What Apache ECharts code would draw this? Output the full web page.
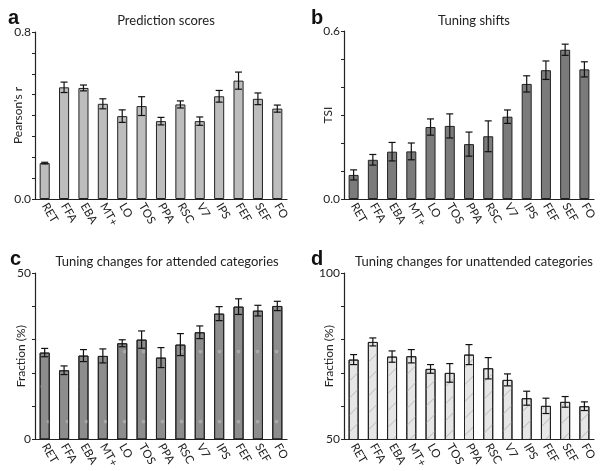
<!DOCTYPE html>
<html><head><meta charset="utf-8">
<script src="https://cdn.jsdelivr.net/npm/echarts@6/dist/echarts.min.js"></script>
<style>html,body{margin:0;padding:0;background:#fff}#c{width:602px;height:471px}</style>
</head><body><div id="c"></div>
<script>
const categories = ['RET','FFA','EBA','MT+','LO','TOS','PPA','RSC','V7','IPS','FEF','SEF','FO'];

const predValues = [0.172,0.535,0.532,0.456,0.397,0.445,0.373,0.453,0.373,0.492,0.567,0.480,0.433];
const predErrors = [0.004,0.025,0.014,0.024,0.030,0.045,0.018,0.017,0.020,0.028,0.041,0.028,0.017];

const tsiValues = [0.086,0.140,0.169,0.170,0.257,0.261,0.196,0.224,0.294,0.411,0.460,0.533,0.463];
const tsiErrors = [0.018,0.019,0.033,0.030,0.029,0.043,0.043,0.055,0.024,0.029,0.033,0.020,0.027];

const attValues = [26.1,20.8,25.2,25.1,28.9,30.0,24.6,28.5,32.2,37.8,39.9,38.7,40.1];
const attErrors = [1.25,1.3,1.8,2.1,1.05,2.6,3.0,3.3,1.9,2.1,2.35,1.6,1.4];

const unattValues = [74.0,79.3,74.9,75.0,71.2,70.0,75.5,71.4,67.9,62.4,60.1,61.3,60.0];
const unattErrors = [1.5,1.2,1.7,2.0,1.3,2.8,3.0,3.2,1.8,2.1,2.3,1.6,1.3];

const titles = ['Prediction scores','Tuning shifts','Tuning changes for attended categories','Tuning changes for unattended categories'];
const letters = ['a','b','c','d'];
const yNames = ["Pearson's r",'TSI','Fraction (%)','Fraction (%)'];
const yRanges = [[0,0.8,0.1,1],[0,0.6,0.1,1],[0,50,10,0],[50,100,10,0]];

const FONT = 'Lato';
const chart = echarts.init(document.getElementById('c'));

const grids = [
  {left:35, top:32, width:252, height:167},
  {left:344, top:31, width:250, height:168},
  {left:35, top:273, width:252, height:168},
  {left:344, top:273, width:250, height:168}
];

const nameGaps = [11, 10, 8, 9];

const xAxes = grids.map((g,i)=>({
  type:'category', gridIndex:i, data:categories,
  axisLine:{lineStyle:{color:'#222',width:1.2}},
  axisTick:{show:false},
  axisLabel:{rotate:-60, fontFamily:FONT, fontSize:11.5, color:'#222', margin:5, interval:0}
}));

const yAxes = yRanges.map((r,i)=>({
  type:'value', gridIndex:i, min:r[0], max:r[1], interval:r[2],
  name:yNames[i], nameLocation:'middle', nameGap:nameGaps[i], nameMoveOverlap:false,
  nameTextStyle:{fontFamily:FONT, fontSize:12, color:'#222'},
  splitLine:{show:false},
  axisLine:{show:true, lineStyle:{color:'#222',width:1.2}},
  axisTick:{show:true, length:3, lineStyle:{color:'#222'}},
  axisLabel:{fontFamily:FONT, fontSize:12, color:'#222', margin:4,
    formatter:v=> (Math.abs(v-r[0])<1e-9 || Math.abs(v-r[1])<1e-9) ? v.toFixed(r[3]) : ''}
}));

const barStyles = [
  {color:'#bdbdbd'},
  {color:'#7b7b7b'},
  {color:'#8d8d8d', decal:{symbol:'emptyCircle', symbolSize:0.6, color:'#a9a9a9', dashArrayX:[[3,16],[0,9,3,7]], dashArrayY:[3,32]}},
  {color:'#e6e6e6', decal:{symbol:'rect', symbolSize:1, color:'#c4c4c4', dashArrayX:[1,0], dashArrayY:[1,11], rotation:-Math.PI/4}}
];

const allValues = [predValues, tsiValues, attValues, unattValues];
const allErrors = [predErrors, tsiErrors, attErrors, unattErrors];

const series = [];
allValues.forEach((vals,i)=>{
  series.push({
    type:'bar', xAxisIndex:i, yAxisIndex:i, data:vals, barWidth:'52%',
    itemStyle:Object.assign({borderColor:'#222', borderWidth:1}, barStyles[i]),
    silent:true, z:2
  });
  series.push({
    type:'custom', xAxisIndex:i, yAxisIndex:i, z:5, silent:true,
    data: vals.map((v,k)=>[k, v-allErrors[i][k], v+allErrors[i][k]]),
    renderItem:(params, api)=>{
      const lo = api.coord([api.value(0), api.value(1)]);
      const hi = api.coord([api.value(0), api.value(2)]);
      const hw = 3.5;
      const st = {stroke:'#111', lineWidth:1.2};
      return {type:'group', children:[
        {type:'line', shape:{x1:lo[0],y1:lo[1],x2:hi[0],y2:hi[1]}, style:st},
        {type:'line', shape:{x1:lo[0]-hw,y1:lo[1],x2:lo[0]+hw,y2:lo[1]}, style:st},
        {type:'line', shape:{x1:hi[0]-hw,y1:hi[1],x2:hi[0]+hw,y2:hi[1]}, style:st}
      ]};
    }
  });
});

const titleCenters = [[161,9],[469,9],[162,250],[469,250]];
const letterPos = [[3,3],[306,3],[5,244],[306,244]];
const titleArr = [];
titles.forEach((t,i)=>{
  titleArr.push({text:t, left:titleCenters[i][0], top:titleCenters[i][1], textAlign:'center',
    textStyle:{fontFamily:FONT, fontSize:13, fontWeight:'normal', color:'#222'}});
  titleArr.push({text:letters[i], left:letterPos[i][0], top:letterPos[i][1],
    textStyle:{fontFamily:'Liberation Sans', fontSize:20, fontWeight:'bold', color:'#111'}});
});

chart.setOption({
  animation:false,
  backgroundColor:'#fff',
  title:titleArr,
  grid:grids,
  xAxis:xAxes,
  yAxis:yAxes,
  series:series
});
</script></body></html>
